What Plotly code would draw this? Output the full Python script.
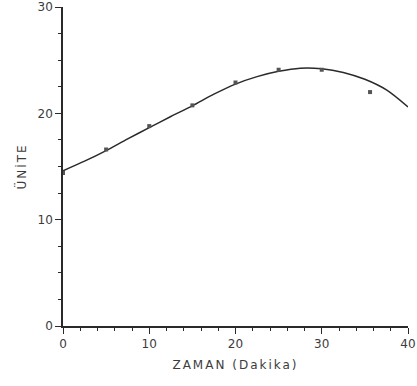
import plotly.graph_objects as go

# Measured points
zaman = [0, 5, 10, 15, 20, 25, 30, 35.6]
unite = [14.4, 16.6, 18.8, 20.75, 22.9, 24.1, 24.1, 22.0]

# Fitted curve
curve_x = [0, 2.5, 5, 7.5, 10, 12.5, 15, 17.5, 20, 22.5, 25, 27.5, 30, 32.5, 35, 37.5, 40]
curve_y = [14.6, 15.5, 16.5, 17.6, 18.65, 19.7, 20.7, 21.8, 22.75, 23.45, 23.95, 24.25, 24.2,
           23.85, 23.2, 22.2, 20.6]

x_ticks = [0, 10, 20, 30, 40]
y_ticks = [0, 10, 20, 30]

ink = "#2a2a2a"
txt = "#3c3c3c"
tick_font = dict(family="DejaVu Sans", size=12, color=txt)
title_font = dict(family="DejaVu Sans", size=12, color=txt)

fig = go.Figure()
fig.add_trace(go.Scatter(x=curve_x, y=curve_y, mode="lines",
                         line=dict(color=ink, width=1.5, shape="spline", smoothing=0.8),
                         hoverinfo="skip", showlegend=False))
fig.add_trace(go.Scatter(x=zaman, y=unite, mode="markers",
                         marker=dict(symbol="square", size=4, color="#555555"),
                         showlegend=False))

fig.update_layout(
    width=417, height=386,
    margin=dict(l=63, r=9, t=7, b=60),
    paper_bgcolor="white", plot_bgcolor="white",
    font=tick_font,
    xaxis=dict(range=[0, 40], tickvals=x_ticks, ticktext=[str(v) for v in x_ticks],
               automargin=False,
               showgrid=False, zeroline=False, showline=True, linecolor=ink, linewidth=1.5,
               ticks="outside", ticklen=6, tickcolor=ink, tickwidth=1.2,
               minor=dict(dtick=2, tick0=0, ticks="outside", ticklen=3, tickcolor=ink, showgrid=False),
               title=dict(text="ZAMAN (Dakika)", font=title_font, standoff=10),
               tickfont=tick_font),
    yaxis=dict(range=[0, 30], tickvals=y_ticks, ticktext=[str(v) for v in y_ticks],
               automargin=False,
               showgrid=False, zeroline=False, showline=True, linecolor=ink, linewidth=1.5,
               ticks="outside", ticklen=6, tickcolor=ink, tickwidth=1.2,
               minor=dict(dtick=2.5, tick0=0, ticks="outside", ticklen=3, tickcolor=ink, showgrid=False),
               title=dict(text="ÜNİTE", font=title_font, standoff=8),
               tickfont=tick_font),
)

post = """
document.body.style.margin='0';
document.querySelectorAll('.xtitle, .ytitle').forEach(function(t){t.style.letterSpacing='2px';});
"""
fig.write_html("out.html", post_script=post, config={"displayModeBar": False})
